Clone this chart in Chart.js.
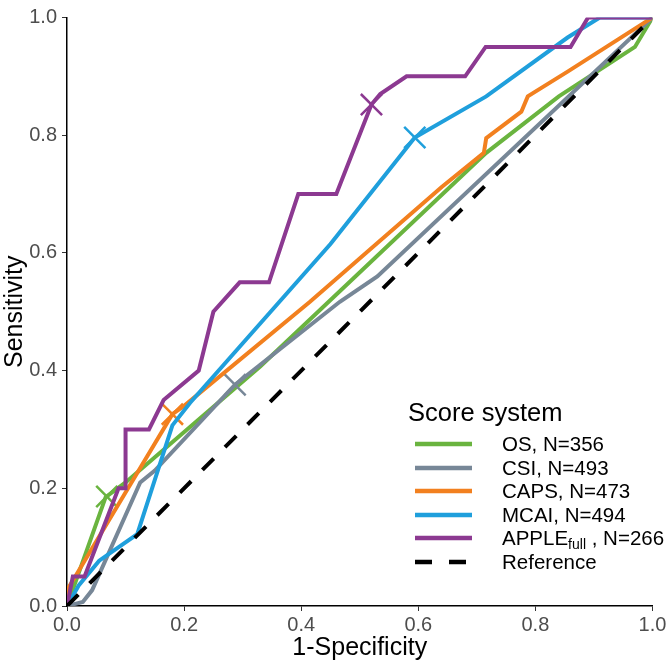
<!DOCTYPE html>
<html>
<head>
<meta charset="utf-8">
<script src="https://cdn.jsdelivr.net/npm/chart.js@4/dist/chart.umd.min.js"></script>
<style>
 body { margin: 0; background: #fff; }
 #wrap { position: relative; width: 670px; height: 663px; font-family: "Liberation Sans", Arial, sans-serif; }
 #legend .title { position: absolute; left: 408px; top: 397px; font-size: 25.5px; line-height: 30px; color: #000; }
 #legend .row { position: absolute; left: 415px; height: 24px; display: flex; align-items: center; font-size: 20.5px; color: #000; }
 #legend .row svg { width: 60px; height: 10px; margin-right: 27px; flex: none; }
 #legend .name { white-space: pre; }
 #legend sub { font-size: 14px; vertical-align: -4px; line-height: 0; }
</style>
</head>
<body>
<div id="wrap">
 <canvas id="chart" width="670" height="663"></canvas>
 <div id="legend"></div>
</div>
<script>
// ROC curves (false positive rate / sensitivity)
const osX = [0, 0.066, 0.1, 0.33, 0.716, 0.84, 0.97, 1];
const osY = [0, 0.185, 0.21, 0.407, 0.77, 0.866, 0.95, 1];

const csiX = [0, 0.027, 0.043, 0.125, 0.15, 0.287, 0.33, 0.466, 0.53, 1];
const csiY = [0, 0.007, 0.027, 0.21, 0.23, 0.376, 0.41, 0.517, 0.56, 1];

const capsX = [0, 0, 0.02, 0.18, 0.2, 0.415, 0.64, 0.712, 0.716, 0.776, 0.787, 0.855, 1];
const capsY = [0, 0.027, 0.06, 0.326, 0.34, 0.517, 0.712, 0.77, 0.795, 0.84, 0.866, 0.908, 1];

const mcaiX = [0, 0.02, 0.055, 0.12, 0.18, 0.21, 0.45, 0.594, 0.716, 0.855, 0.91, 1];
const mcaiY = [0, 0.035, 0.077, 0.122, 0.307, 0.345, 0.615, 0.796, 0.866, 0.966, 1, 1];

const appleX = [0, 0.01, 0.03, 0.088, 0.1, 0.1, 0.14, 0.165, 0.225, 0.25, 0.295, 0.345, 0.395, 0.46, 0.52, 0.535, 0.58, 0.68, 0.715, 0.86, 0.89, 1];
const appleY = [0, 0.05, 0.05, 0.2, 0.2, 0.3, 0.3, 0.35, 0.4, 0.5, 0.55, 0.55, 0.7, 0.7, 0.852, 0.87, 0.9, 0.9, 0.95, 0.95, 1, 1];

const refX = [0, 1];
const refY = [0, 1];

// optimal cut-off (X marks), same order as the series
const cutX = [0.068, 0.287, 0.18, 0.594, 0.52];
const cutY = [0.186, 0.376, 0.326, 0.796, 0.852];

const seriesNames = ["OS, N=356", "CSI, N=493", "CAPS, N=473", "MCAI, N=494", "APPLE<sub>full</sub> , N=266"];
const seriesColors = ["#6ab43f", "#778797", "#f2801f", "#1f9fdc", "#8c3991"];
const tickValues = [0, 0.2, 0.4, 0.6, 0.8, 1];

const curves = [[osX, osY], [csiX, csiY], [capsX, capsY], [mcaiX, mcaiY], [appleX, appleY]];
const pts = (xs, ys) => xs.map((x, i) => ({ x: x, y: ys[i] }));

const datasets = [];
curves.forEach(([xs, ys], i) => {
 datasets.push({
  data: pts(xs, ys),
  showLine: true,
  borderColor: seriesColors[i],
  borderWidth: 4,
  pointRadius: 0,
  order: 5 - i + 1,
 });
 datasets.push({
  data: [{ x: cutX[i], y: cutY[i] }],
  showLine: false,
  pointStyle: "crossRot",
  pointRadius: 15,
  borderColor: seriesColors[i],
  pointBorderWidth: 2.5,
  order: 5 - i + 1,
 });
});
datasets.push({
 data: pts(refX, refY),
 showLine: true,
 borderColor: "#000",
 borderWidth: 4,
 borderDash: [16, 16],
 pointRadius: 0,
 order: 0,
});

const tickFont = { family: "Liberation Sans", size: 20 };
const titleFont = { family: "Liberation Sans", size: 25 };

new Chart(document.getElementById("chart").getContext("2d"), {
 type: "scatter",
 data: { datasets: datasets },
 options: {
  responsive: false,
  animation: false,
  layout: { padding: { left: 0, right: 17, top: 10, bottom: 0 } },
  elements: { line: { tension: 0, borderCapStyle: "butt", borderJoinStyle: "miter" } },
  scales: {
   x: {
    type: "linear",
    min: 0,
    max: 1,
    afterBuildTicks: (s) => { s.ticks = tickValues.map((v) => ({ value: v })); },
    afterFit: (s) => { s.height = 57; },
    ticks: { callback: (v) => v.toFixed(1), font: tickFont, color: "#4d4d4d", padding: 2, maxRotation: 0 },
    grid: { drawOnChartArea: false, drawTicks: true, tickLength: 5, color: "#333" },
    border: { display: true, color: "#000", width: 1.5 },
    title: { display: true, text: "1-Specificity", color: "#000", font: titleFont, padding: { top: 0, bottom: 0 } },
   },
   y: {
    type: "linear",
    min: 0,
    max: 1,
    afterBuildTicks: (s) => { s.ticks = tickValues.map((v) => ({ value: v })); },
    afterFit: (s) => { s.width = 67; },
    ticks: { callback: (v) => v.toFixed(1), font: tickFont, color: "#4d4d4d", padding: 5 },
    grid: { drawOnChartArea: false, drawTicks: true, tickLength: 5, color: "#333" },
    border: { display: true, color: "#000", width: 1.5 },
    title: { display: true, text: "Sensitivity", color: "#000", font: titleFont, padding: { top: 0, bottom: 0 } },
   },
  },
  plugins: {
   legend: { display: false },
   tooltip: { enabled: false },
  },
 },
});

// legend drawn as html so the subscript stays real text
const legend = document.getElementById("legend");
let html = '<div class="title">Score system</div>';
const rowNames = seriesNames.concat(["Reference"]);
rowNames.forEach((name, i) => {
 const top = 432 + i * 23.6;
 const dash = i === 5;
 const col = dash ? "#000" : seriesColors[i];
 html += '<div class="row" style="top:' + top + 'px">' +
  '<svg viewBox="0 0 60 10"><line x1="0" y1="5" x2="57" y2="5" stroke="' + col + '" stroke-width="4.5"' +
  (dash ? ' stroke-dasharray="17 17"' : "") + '/></svg><span class="name">' + name + "</span></div>";
});
legend.innerHTML = html;
</script>
</body>
</html>
